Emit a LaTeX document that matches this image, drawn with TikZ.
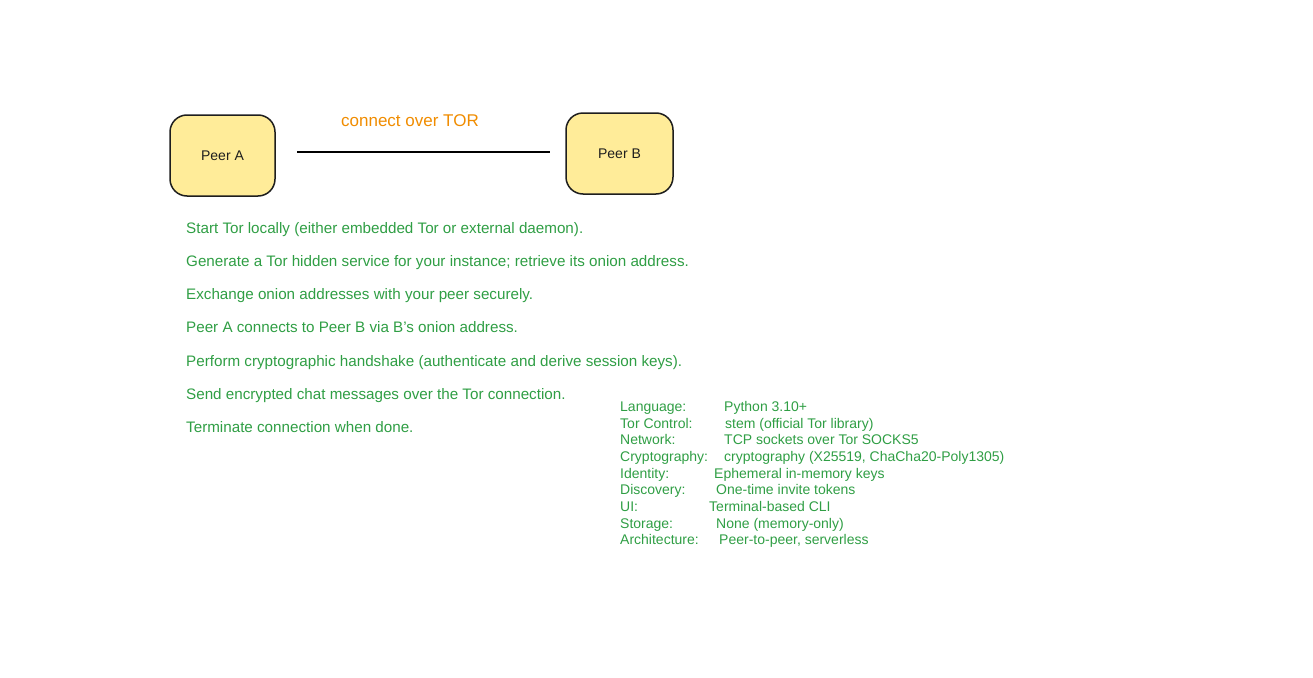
\documentclass[tikz,border=0pt]{standalone}
\usepackage{fontspec}
\setmainfont{Liberation Sans}
\definecolor{stroke}{HTML}{1E1E1E}
\definecolor{peerfill}{HTML}{FFEC99}
\definecolor{txtgreen}{HTML}{2F9E44}
\definecolor{txtorange}{HTML}{F08C00}
\tikzset{
  peer/.style={draw=stroke, fill=peerfill, line width=1.5pt, rounded corners=17pt, inner sep=0pt, font=\fontsize{14}{16}\selectfont, text=stroke},
  steptext/.style={anchor=base west, inner sep=0pt, text=txtgreen, font=\fontsize{15.2}{17}\selectfont},
  stacktext/.style={anchor=base west, inner sep=0pt, text=txtgreen, font=\fontsize{14}{16}\selectfont},
}
\begin{document}
\begin{tikzpicture}[x=1pt,y=-1pt]
\useasboundingbox (0,0) rectangle (1313,677);
\node[peer, minimum width=105pt, minimum height=81pt] (a) at (222.5,155.5) {Peer A};
\node[peer, minimum width=107pt, minimum height=81pt] (b) at (619.5,153.5) {Peer B};
\coordinate (l1) at (297,152);
\coordinate (l2) at (550,152);
\draw[stroke, line width=2.5pt] (l1) -- (l2);
\node[text=txtorange, font=\fontsize{17}{19}\selectfont, inner sep=0pt] (lab) at (410,121) {connect over TOR};

\node[steptext] (s1) at (186,233) {Start Tor locally (either embedded Tor or external daemon).};
\node[steptext] (s2) at (186,266) {Generate a Tor hidden service for your instance; retrieve its onion address.};
\node[steptext] (s3) at (186,299) {Exchange onion addresses with your peer securely.};
\node[steptext] (s4) at (186,332) {Peer A connects to Peer B via B’s onion address.};
\node[steptext] (s5) at (186,366) {Perform cryptographic handshake (authenticate and derive session keys).};
\node[steptext] (s6) at (186,399) {Send encrypted chat messages over the Tor connection.};
\node[steptext] (s7) at (186,432) {Terminate connection when done.};

\node[stacktext] (k1) at (620,411) {Language:};
\node[stacktext] (v1) at (724,411) {Python 3.10+};
\node[stacktext] (k2) at (620,428) {Tor Control:};
\node[stacktext] (v2) at (725,428) {stem (official Tor library)};
\node[stacktext] (k3) at (620,444) {Network:};
\node[stacktext] (v3) at (724,444) {TCP sockets over Tor SOCKS5};
\node[stacktext] (k4) at (620,461) {Cryptography:};
\node[stacktext] (v4) at (724,461) {cryptography (X25519, ChaCha20-Poly1305)};
\node[stacktext] (k5) at (620,478) {Identity:};
\node[stacktext] (v5) at (714,478) {Ephemeral in-memory keys};
\node[stacktext] (k6) at (620,494) {Discovery:};
\node[stacktext] (v6) at (716,494) {One-time invite tokens};
\node[stacktext] (k7) at (620,511) {UI:};
\node[stacktext] (v7) at (709,511) {Terminal-based CLI};
\node[stacktext] (k8) at (620,528) {Storage:};
\node[stacktext] (v8) at (716,528) {None (memory-only)};
\node[stacktext] (k9) at (620,544) {Architecture:};
\node[stacktext] (v9) at (719,544) {Peer-to-peer, serverless};
\end{tikzpicture}
\end{document}
